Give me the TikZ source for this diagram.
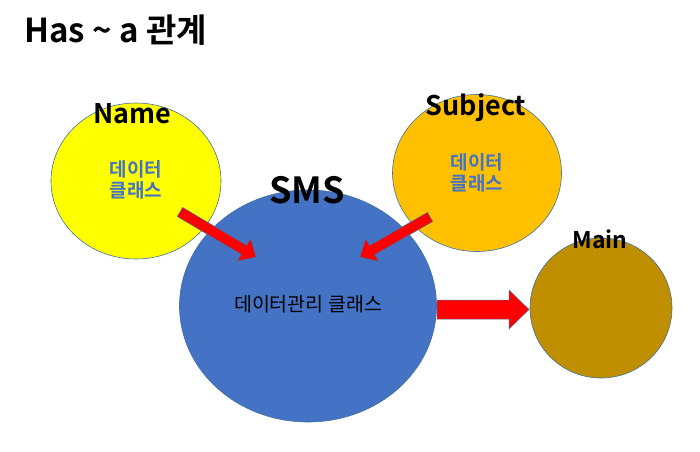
\documentclass[tikz,border=0pt]{standalone}
\usepackage{fontspec}
\usetikzlibrary{calc,shapes.geometric}
\setmainfont{Noto Sans CJK KR}[BoldFont={Noto Sans CJK KR Bold}]
\definecolor{edge}{HTML}{41719C}
\definecolor{cyel}{HTML}{FFFF00}
\definecolor{corg}{HTML}{FFC000}
\definecolor{cblu}{HTML}{4472C4}
\definecolor{cgld}{HTML}{BF8F00}
\definecolor{cred}{HTML}{FF0000}
\newcommand\blkarrow[5]{%
  \fill[cred,draw=edge,line width=0.5pt]
    ($(#1)!#3!90:(#2)$)
    -- ($($(#2)!#5!(#1)$)!#3!-90:(#1)$) -- ($($(#2)!#5!(#1)$)!#4!-90:(#1)$)
    -- (#2)
    -- ($($(#2)!#5!(#1)$)!#4!90:(#1)$) -- ($($(#2)!#5!(#1)$)!#3!90:(#1)$)
    -- ($(#1)!#3!-90:(#2)$)
    -- cycle;}
\tikzset{
  blob/.style={ellipse, draw=edge, line width=0.6pt, inner sep=0pt},
  ttl/.style={font=\bfseries\fontsize{27}{30}\selectfont, text=black, inner sep=0pt},
  inner/.style={font=\bfseries\fontsize{19}{21}\selectfont, text=cblu, align=center, inner sep=0pt},
}
\begin{document}
\begin{tikzpicture}[x=1pt,y=-1pt]
\useasboundingbox (0,0) rectangle (700,451);
\node[blob, fill=cyel, minimum width=170pt, minimum height=156pt] (name) at (136,181) {};
\node[blob, fill=corg, minimum width=169pt, minimum height=157pt] (subj) at (477,173) {};
\node[blob, fill=cblu, minimum width=257pt, minimum height=232pt] (sms) at (308,306) {};
\node[blob, fill=cgld, minimum width=142pt, minimum height=140pt] (main) at (601,308) {};
\node[inner] (namet) at (136,180) {데이터\\클래스};
\node[inner] (subjt) at (477,173) {데이터\\클래스};
\node[font=\fontsize{19.5}{22}\selectfont, inner sep=0pt] (smst) at (308,304) {데이터관리 클래스};
\node[ttl, anchor=base] (namel) at (132,123) {Name};
\node[ttl, anchor=base] (subjl) at (476,115) {Subject};
\node[ttl, font=\bfseries\fontsize{36}{40}\selectfont, anchor=base] (smsl) at (307,203) {SMS};
\node[ttl, font=\bfseries\fontsize{23}{26}\selectfont, anchor=base] (mainl) at (600,248) {Main};
\node[font=\bfseries\fontsize{33}{36}\selectfont, anchor=base west, inner sep=0pt] (title) at (24,42) {Has \textasciitilde\ a 관계};
\coordinate (a1s) at (180,212);
\coordinate (a1e) at (256,257);
\coordinate (a2s) at (430,217);
\coordinate (a2e) at (360,257);
\coordinate (a3s) at (437,309.5);
\coordinate (a3e) at (529,309.5);
\blkarrow{a1s}{a1e}{5.2pt}{13pt}{14pt}
\blkarrow{a2s}{a2e}{5.2pt}{13pt}{14pt}
\blkarrow{a3s}{a3e}{9.5pt}{19.5pt}{20pt}
\end{tikzpicture}
\end{document}
